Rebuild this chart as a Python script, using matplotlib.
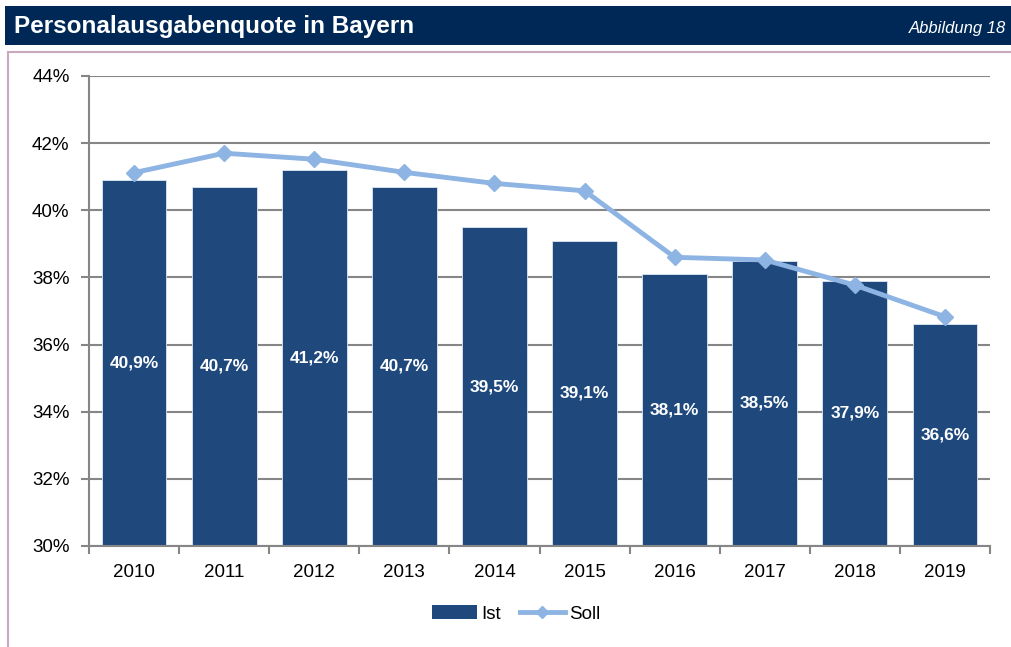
import matplotlib
matplotlib.use("Agg")
import matplotlib.pyplot as plt
from matplotlib.patches import Rectangle
from matplotlib.lines import Line2D
import numpy as np

years = ["2010", "2011", "2012", "2013", "2014", "2015", "2016", "2017", "2018", "2019"]
ist = [40.9, 40.7, 41.2, 40.7, 39.5, 39.1, 38.1, 38.5, 37.9, 36.6]
soll = [41.12, 41.7, 41.52, 41.13, 40.8, 40.58, 38.6, 38.52, 37.77, 36.83]
yticks = [30, 32, 34, 36, 38, 40, 42, 44]

plt.rcParams['font.family'] = ['Liberation Sans', 'DejaVu Sans']

W, H = 1011, 647
fig = plt.figure(figsize=(W / 100, H / 100), dpi=100)

# title bar
fig.patches.append(Rectangle((5 / W, 1 - 45 / H), 1, 39 / H, transform=fig.transFigure,
                             facecolor="#002856", edgecolor="none", zorder=0))
fig.text(14 / W, 1 - 26 / H, "Personalausgabenquote in Bayern", color="white",
         fontsize=17.5, fontweight="bold", va="center", ha="left")
fig.text(909 / W, 1 - 28 / H, "Abbildung 18", color="white", fontsize=12,
         fontstyle="italic", va="center", ha="left")

# frame lines
fig.lines.append(Line2D([8 / W, 8 / W], [0, 1 - 52 / H], transform=fig.transFigure,
                        color="#C9A9BC", lw=1.5))
fig.lines.append(Line2D([8 / W, 1], [1 - 52 / H, 1 - 52 / H], transform=fig.transFigure,
                        color="#C9A9BC", lw=1.5))

ax = fig.add_axes([89 / W, 1 - 546 / H, (990 - 89) / W, (546 - 76) / H])
x = np.arange(len(years))
bars = ax.bar(x, ist, width=0.72, bottom=0, color="#1F497D", edgecolor="#DCE6F2",
              linewidth=0.6, zorder=2)
ax.plot(x, soll, color="#8DB4E2", lw=3.5, marker="D", markersize=8,
        markerfacecolor="#8DB4E2", markeredgecolor="#8DB4E2", zorder=3)

for xi, v in zip(x, ist):
    ax.text(xi, (v + 30) / 2, f"{v:.1f}%".replace(".", ","), color="white",
            fontsize=12.5, fontweight="bold", ha="center", va="center", zorder=4)

ax.set_ylim(30, 44)
ax.set_xlim(-0.5, len(years) - 0.5)
ax.set_yticks(yticks)
ax.set_yticklabels([f"{t}%" for t in yticks], fontsize=13.5)
ax.set_xticks(x)
ax.set_xticklabels(years, fontsize=13.5)
ax.set_xticks(np.arange(-0.5, len(years), 1), minor=True)
ax.tick_params(axis="x", which="major", length=0, pad=13)
ax.tick_params(axis="x", which="minor", length=6, width=1.5, color="#868686", direction="out")
ax.tick_params(axis="y", length=6, width=1.5, color="#868686", direction="out", pad=8)
ax.grid(axis="y", color="#868686", lw=1.5, zorder=1)
ax.set_axisbelow(True)
for s in ["top", "right"]:
    ax.spines[s].set_visible(False)
for s in ["left", "bottom"]:
    ax.spines[s].set_color("#868686")
    ax.spines[s].set_linewidth(1.5)

handles = [Rectangle((0, 0), 1, 1, facecolor="#1F497D", edgecolor="none"),
           Line2D([0], [0], color="#8DB4E2", lw=3.5, marker="D", markersize=6)]
fig.legend(handles, ["Ist", "Soll"], loc="center", bbox_to_anchor=(516 / W, 1 - 614 / H),
           ncol=2, frameon=False, fontsize=13.5, handlelength=2.4, handletextpad=0.25,
           columnspacing=1.0)

fig.savefig("out.png", dpi=100)
